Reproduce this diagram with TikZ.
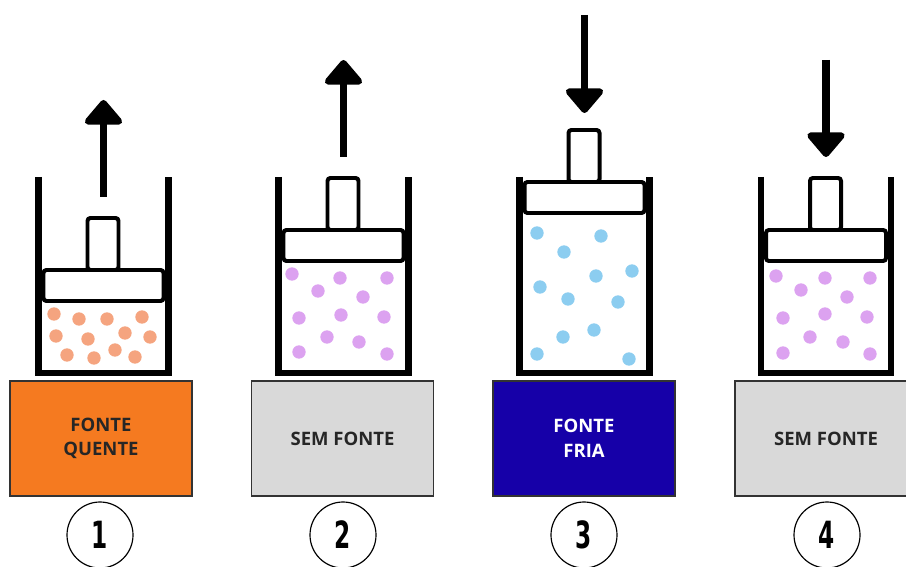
\documentclass[tikz,border=0pt]{standalone}
\usepackage{fontspec}
\setmainfont{Open Sans}
\newfontfamily\numfont[FakeStretch=0.62]{DejaVu Sans}
\usetikzlibrary{arrows.meta}
\definecolor{hotCol}{RGB}{245,122,32}
\definecolor{coldCol}{RGB}{22,0,168}
\definecolor{noneCol}{RGB}{217,217,217}
\definecolor{hotDot}{RGB}{245,164,127}
\definecolor{gasDot}{RGB}{220,162,240}
\definecolor{coldDot}{RGB}{140,205,240}
\tikzset{
  wall/.style={line width=5.6pt,line join=miter},
  piston/.style={draw,line width=3.4pt,rounded corners=2.5pt,fill=white},
  push/.style={line width=6pt,-{Triangle[width=1.3cm,length=0.8cm,round]}},
  source/.style={draw=black!80,line width=1.3pt,minimum width=5.46cm,minimum height=3.45cm,
                 align=center,font=\bfseries\fontsize{15.8}{21}\selectfont,text=black!85},
  stepnum/.style={circle,draw,line width=1pt,minimum size=1.98cm,fill=white,
                  font=\numfont\bfseries\fontsize{32}{32}\selectfont},
  dot/.style={radius=0.2cm},
}

\begin{document}
\begin{tikzpicture}[x=0.03cm,y=-0.03cm]
    \useasboundingbox (0,0) rectangle (906,567);
    % cylinders: centre / piston top / arrow start / arrow end
    \foreach \i/\cx/\p/\a/\b in {1/103.5/270/197/100, 2/343.5/230/157/60,
                                 3/584.5/182/15/113, 4/826/230/60/157} {
       \draw[wall] (\cx-65,177) -- (\cx-65,373) -- (\cx+65,373) -- (\cx+65,177);
       \draw[piston] (\cx-16,\p-52) rectangle (\cx+15,\p);
       \draw[piston] (\cx-60,\p) rectangle (\cx+60,\p+31);
       \coordinate (s\i) at (\cx,\a);
       \coordinate (e\i) at (\cx,\b);
       \draw[push] (s\i) -- (e\i);
    }
    % gas particles
    \foreach \x/\y in {54/314,79/319,107/319,142/317,56/336,88/339,
                       125/333,150/337,67/355,94/358,115/350,135/357}
       \fill[hotDot] (\x,\y) circle[dot];
    \foreach \x/\y in {292/274,340/278,387/278,318/291,363/297,299/318,
                       341/315,384/317,327/337,359/342,299/352,387/354}
       \fill[gasDot] (\x,\y) circle[dot];
    \foreach \x/\y in {537/233,601/236,564/252,632/271,596/276,540/287,
                       568/299,618/302,563/337,594/330,537/354,629/359}
       \fill[coldDot] (\x,\y) circle[dot];
    \foreach \x/\y in {776/276,825/278,870/278,801/290,847/297,783/318,
                       825/314,867/317,810/337,843/342,783/353,870/354}
       \fill[gasDot] (\x,\y) circle[dot];
    % heat sources under the cylinders
    \node[source,fill=hotCol] (src1) at (101,438.5) {FONTE\\QUENTE};
    \node[source,fill=noneCol] (src2) at (342.5,438.5) {SEM FONTE};
    \node[source,fill=coldCol,text=white] (src3) at (584,438.5) {FONTE\\FRIA};
    \node[source,fill=noneCol] (src4) at (826,438.5) {SEM FONTE};
    % step numbers
    \foreach \i/\cx in {1/100,2/343,3/584,4/827}
       \node[stepnum] (n\i) at (\cx,535) {\i};
  \end{tikzpicture}
\end{document}
